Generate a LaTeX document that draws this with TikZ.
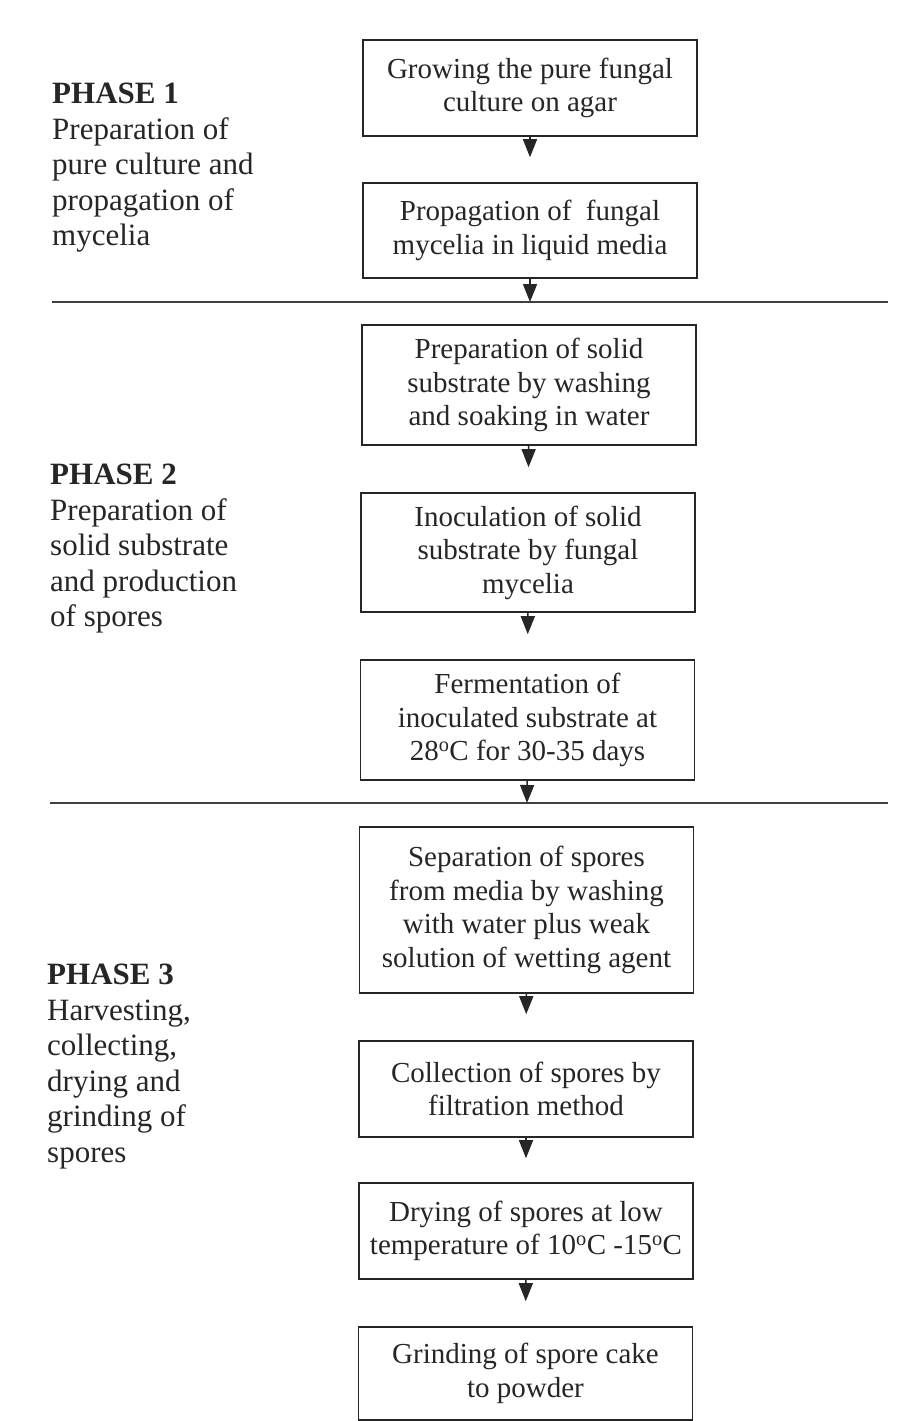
\documentclass[tikz,border=0pt]{standalone}
\usepackage{fontspec}
\setmainfont{Liberation Serif}
\usetikzlibrary{arrows.meta}
\begin{document}
\begin{tikzpicture}[x=1pt,y=-1pt,
  box/.style={draw=black!85, line width=1.6pt, minimum width=334pt, inner sep=0pt,
    align=center, font=\fontsize{29}{33.5}\selectfont, text=black!85},
  phase/.style={anchor=north west, inner sep=0pt, align=left,
    font=\fontsize{31}{35.5}\selectfont, text=black!85},
  flow/.style={line width=1.5pt, draw=black!85, fill=black!85,
    -{Triangle[width=14pt,length=18pt]}},
  rule/.style={line width=1.8pt, draw=black!75}]
\useasboundingbox (0,0) rectangle (912,1421);
\fill[white] (0,0) rectangle (912,1421);

% phase labels
\node[phase] (p1) at (52,83) {\textbf{PHASE 1}\\Preparation of\\pure culture and\\propagation of\\mycelia};
\node[phase] (p2) at (50,464) {\textbf{PHASE 2}\\Preparation of\\solid substrate\\and production\\of spores};
\node[phase] (p3) at (47,964) {\textbf{PHASE 3}\\Harvesting,\\collecting,\\drying and\\grinding of\\spores};

% separators
\coordinate (r1a) at (52,302);
\coordinate (r1b) at (888,302);
\coordinate (r1m) at (530,302);
\coordinate (r2a) at (50,803);
\coordinate (r2b) at (888,803);
\coordinate (r2m) at (527,803);
\draw[rule] (r1a) -- (r1b);
\draw[rule] (r2a) -- (r2b);

% boxes
\node[box, minimum height=96pt] (b1) at (530,88) {Growing the pure fungal\\culture on agar};
\node[box, minimum height=95pt] (b2) at (530,230.5) {Propagation of\ \ fungal\\mycelia in liquid media};
\node[box, minimum height=120pt] (b3) at (529,385) {Preparation of solid\\substrate by washing\\and soaking in water};
\node[box, minimum height=119pt] (b4) at (528,552.5) {Inoculation of solid\\substrate by fungal\\mycelia};
\node[box, minimum height=120pt] (b5) at (527.5,720) {Fermentation of\\inoculated substrate at\\28\textsuperscript{o}C for 30-35 days};
\node[box, minimum height=166pt] (b6) at (526.5,910) {Separation of spores\\from media by washing\\with water plus weak\\solution of wetting agent};
\node[box, minimum height=96pt] (b7) at (526,1089) {Collection of spores by\\filtration method};
\node[box, minimum height=96pt] (b8) at (526,1231) {Drying of spores at low\\temperature of 10\textsuperscript{o}C -15\textsuperscript{o}C};
\node[box, minimum height=93pt] (b9) at (525.5,1373.5) {Grinding of spore cake\\to powder};

% connectors
\draw[flow, shorten >=25pt] (b1) -- (b2);
\draw[flow] (b2) -- (r1m);
\draw[flow, shorten >=25pt] (b3) -- (b4);
\draw[flow, shorten >=25pt] (b4) -- (b5);
\draw[flow] (b5) -- (r2m);
\draw[flow, shorten >=26pt] (b6) -- (b7);
\draw[flow, shorten >=24pt] (b7) -- (b8);
\draw[flow, shorten >=25pt] (b8) -- (b9);
\end{tikzpicture}
\end{document}
